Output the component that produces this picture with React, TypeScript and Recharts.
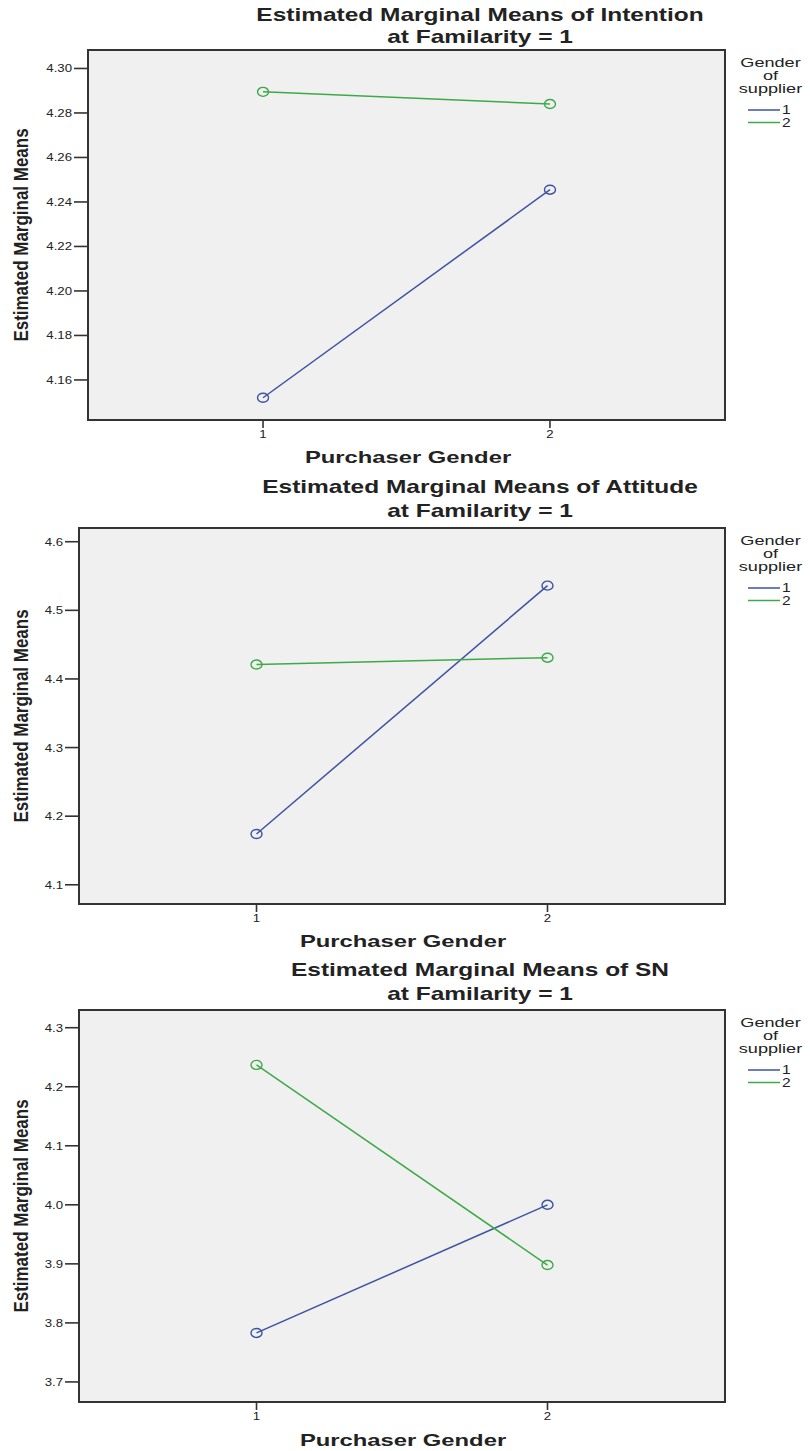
import React from "react";
import { LineChart, Line, XAxis, YAxis, Legend, ReferenceArea } from "recharts";

// values
const purchaserGender = [1, 2];
const supplierGender = ["1", "2"];
const legendTitle = ["Gender", "of", "supplier"];

const intentionS1 = [4.152, 4.2455];
const intentionS2 = [4.2895, 4.284];
const attitudeS1 = [4.174, 4.536];
const attitudeS2 = [4.421, 4.431];
const snS1 = [3.783, 4.0];
const snS2 = [4.237, 3.898];

const intentionTicks = [4.16, 4.18, 4.2, 4.22, 4.24, 4.26, 4.28, 4.3];
const attitudeTicks = [4.1, 4.2, 4.3, 4.4, 4.5, 4.6];
const snTicks = [3.7, 3.8, 3.9, 4.0, 4.1, 4.2, 4.3];

const subtitle = "at Familarity = 1";
const xTitle = "Purchaser Gender";
const yTitle = "Estimated Marginal Means";

// the source image is stretched sideways, so text gets widened too
const SX = 1.4;
const FONT = "'Liberation Sans', Arial, sans-serif";
const BLUE = "#3d52a1";
const GREEN = "#3ea948";
const INK = "#222";
const X_DOMAIN = [0.39, 2.61];

const panels = [
  {
    title: "Estimated Marginal Means of Intention",
    s1: intentionS1,
    s2: intentionS2,
    ticks: intentionTicks,
    digits: 2,
    domain: [4.142, 4.3083],
    top: 0,
    height: 470,
    box: { left: 88, right: 725, top: 50, bottom: 420 },
    titleY: [15, 37],
    xTitle: { x: 408, y: 457 },
  },
  {
    title: "Estimated Marginal Means of Attitude",
    s1: attitudeS1,
    s2: attitudeS2,
    ticks: attitudeTicks,
    digits: 1,
    domain: [4.072, 4.62],
    top: 470,
    height: 475,
    box: { left: 79, right: 725, top: 528, bottom: 904 },
    titleY: [487, 511],
    xTitle: { x: 403, y: 941 },
  },
  {
    title: "Estimated Marginal Means of SN",
    s1: snS1,
    s2: snS2,
    ticks: snTicks,
    digits: 1,
    domain: [3.666, 4.33],
    top: 945,
    height: 506,
    box: { left: 79, right: 725, top: 1010, bottom: 1402 },
    titleY: [970, 994],
    xTitle: { x: 403, y: 1440 },
  },
];

function SText({ x, y, size, weight, anchor, children, fill, sx }: any) {
  return (
    <text
      transform={`translate(${x},${y}) scale(${sx || SX},1)`}
      textAnchor={anchor || "middle"}
      fontFamily={FONT}
      fontSize={size}
      fontWeight={weight || "normal"}
      fill={fill || INK}
    >
      {children}
    </text>
  );
}

const yTick = (digits: number) => (props: any) => {
  const { x, y, payload } = props;
  return (
    <SText x={x} y={y + 4} size={11} sx={1.2} anchor="end">
      {Number(payload.value).toFixed(digits)}
    </SText>
  );
};

const xTick = (props: any) => {
  const { x, y, payload } = props;
  return (
    <SText x={x} y={y + 8} size={11} sx={1.2} anchor="middle">
      {payload.value}
    </SText>
  );
};

const ringDot = (color: string) => (p: any) => (
  <ellipse
    key={`dot-${p.index}`}
    cx={p.cx}
    cy={p.cy}
    rx={5.5}
    ry={4.5}
    fill="none"
    stroke={color}
    strokeWidth={1.4}
  />
);

const renderLegend = (props: any) => {
  const items = props.payload || [];
  return (
    <svg width={80} height={84}>
      <SText x={40.5} y={17} size={12.5} sx={1.45}>{legendTitle[0]}</SText>
      <SText x={40.5} y={30} size={12.5} sx={1.45}>{legendTitle[1]}</SText>
      <SText x={40.5} y={43} size={12.5} sx={1.45}>{legendTitle[2]}</SText>
      {items.map((it: any, i: number) => (
        <g key={`leg-${i}`}>
          <line x1={18} x2={50} y1={60 + i * 12.5} y2={60 + i * 12.5} stroke={it.color} strokeWidth={1.5} />
          <SText x={52} y={64 + i * 12.5} size={12} sx={1.3} anchor="start">
            {it.value}
          </SText>
        </g>
      ))}
    </svg>
  );
};

function Panel({ p }: any) {
  const data = purchaserGender.map((g, i) => ({ gender: g, s1: p.s1[i], s2: p.s2[i] }));
  const marginTop = p.box.top - p.top;
  const xAxisHeight = p.height - (p.box.bottom - p.top);
  return (
    <div style={{ position: "absolute", left: 0, top: p.top, width: 810, height: p.height }}>
      <LineChart
        width={810}
        height={p.height}
        data={data}
        margin={{ top: marginTop, right: 810 - p.box.right, left: 0, bottom: 0 }}
      >
        <XAxis
          dataKey="gender"
          type="number"
          domain={X_DOMAIN}
          ticks={purchaserGender}
          allowDataOverflow
          interval={0}
          height={xAxisHeight}
          axisLine={false}
          tickSize={8}
          tickLine={{ stroke: "#333", strokeWidth: 1.6 }}
          tick={xTick}
        />
        <YAxis
          type="number"
          domain={p.domain}
          ticks={p.ticks}
          allowDataOverflow
          interval={0}
          width={p.box.left}
          axisLine={false}
          tickSize={14}
          tickMargin={2}
          tickLine={{ stroke: "#333", strokeWidth: 1.6 }}
          tick={yTick(p.digits)}
        />
        <ReferenceArea
          x1={X_DOMAIN[0]}
          x2={X_DOMAIN[1]}
          y1={p.domain[0]}
          y2={p.domain[1]}
          fill="#f0f0f0"
          fillOpacity={1}
          stroke="#333"
          strokeWidth={2}
        />
        <Line
          dataKey="s1"
          name={supplierGender[0]}
          stroke={BLUE}
          strokeWidth={1.5}
          dot={ringDot(BLUE)}
          isAnimationActive={false}
        />
        <Line
          dataKey="s2"
          name={supplierGender[1]}
          stroke={GREEN}
          strokeWidth={1.5}
          dot={ringDot(GREEN)}
          isAnimationActive={false}
        />
        <Legend
          layout="vertical"
          align="center"
          verticalAlign="middle"
          content={renderLegend}
          wrapperStyle={{ position: "absolute", left: 730, top: marginTop, width: 80, height: 84 }}
        />
      </LineChart>
    </div>
  );
}

export default function App() {
  return (
    <div style={{ position: "absolute", left: 0, top: 0, width: 810, height: 1451, background: "#fff" }}>
      {panels.map((p, i) => (
        <Panel key={`panel-${i}`} p={p} />
      ))}
      <svg
        width={810}
        height={1451}
        style={{ position: "absolute", left: 0, top: 0, pointerEvents: "none" }}
      >
        {panels.map((p, i) => (
          <g key={`txt-${i}`}>
            <SText x={480} y={p.titleY[0] + 6} size={17.5} weight="bold">{p.title}</SText>
            <SText x={480} y={p.titleY[1] + 6} size={17.5} weight="bold">{subtitle}</SText>
            <SText x={p.xTitle.x} y={p.xTitle.y + 6} size={17} weight="bold">{xTitle}</SText>
            <text
              transform={`translate(28,${(p.box.top + p.box.bottom) / 2}) scale(1.15,1) rotate(-90)`}
              textAnchor="middle"
              fontFamily={FONT}
              fontSize={17}
              fontWeight="bold"
              fill={INK}
            >
              {yTitle}
            </text>
          </g>
        ))}
      </svg>
    </div>
  );
}
